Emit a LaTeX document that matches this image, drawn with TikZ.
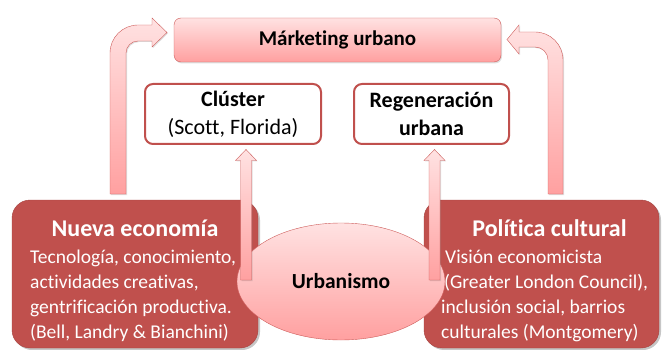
\documentclass[tikz,border=0pt]{standalone}
\usepackage{fontspec}
\setmainfont{Carlito}[Ligatures=NoCommon]
\usetikzlibrary{positioning,calc,shapes.geometric,shadows}

\definecolor{boxred}{RGB}{192,80,77}
\definecolor{boxedge}{RGB}{165,66,63}
\definecolor{pinktop}{RGB}{255,226,226}
\definecolor{pinkbot}{RGB}{255,160,160}
\definecolor{arredge}{RGB}{205,92,90}

\begin{document}
\begin{tikzpicture}[
x=1pt, y=-1pt,
recnode/.style={rectangle, draw=boxred, line width=2pt, fill=white, rounded corners=8pt, align=center, inner sep=0pt, font=\fontsize{22}{28}\selectfont},
topnode/.style={rectangle, draw=arredge, thin, rounded corners=7pt, top color=pinktop, bottom color=pinkbot, drop shadow={opacity=.25, shadow xshift=1pt, shadow yshift=-1.5pt}},
darknode/.style={rectangle, draw=boxedge, fill=boxred, rounded corners=18pt, drop shadow={opacity=.45, shadow xshift=2pt, shadow yshift=-2pt}},
ellnode/.style={ellipse, draw=arredge, top color=pinktop, bottom color=pinkbot},
titletxt/.style={text=white, inner sep=0pt, font=\fontsize{24}{29}\selectfont\bfseries},
bodytxt/.style={text=white, inner sep=0pt, align=left, font=\fontsize{19.5}{25}\selectfont},
blockarr/.style={draw=arredge, thin, top color=pinktop, bottom color=pinkbot, drop shadow={opacity=.25, shadow xshift=1pt, shadow yshift=-1pt}},
]
\useasboundingbox (0,0) rectangle (664,350);
%Nodes
\node[topnode, minimum width=327pt, minimum height=44pt, font=\fontsize{21}{25}\selectfont\bfseries] (mk) at (337.5,40) {Márketing urbano};
\node[recnode, minimum width=176pt, minimum height=60pt] (cl) at (233,114) {\textbf{Clúster}\\(Scott, Florida)};
\node[recnode, minimum width=155pt, minimum height=60pt, font=\fontsize{22}{28}\selectfont\bfseries] (rg) at (431.5,114) {Regeneración\\urbana};
%Bent arrows
\draw[blockarr] (110,194) -- (110,53) .. controls (110,37.5) and (122.5,25) .. (138,25) -- (152,25) -- (152,18) -- (167,32.5) -- (152,47) -- (152,41) -- (138,41) .. controls (131.4,41) and (126,46.4) .. (126,53) -- (126,194) -- cycle;
\draw[blockarr] (548,194) -- (548,60) .. controls (548,52.8) and (542.2,47) .. (535,47) -- (519,47) -- (519,54) -- (507,39.5) -- (519,25) -- (519,32) -- (535,32) .. controls (550.5,32) and (563,44.5) .. (563,60) -- (563,194) -- cycle;
%Bottom boxes
\node[darknode, minimum width=246pt, minimum height=148pt] (ne) at (135,274) {};
\node[darknode, minimum width=235pt, minimum height=148pt] (pc) at (541.5,274) {};
\node[titletxt, anchor=base] (netitle) at ($(ne.north)+(0,37)$) {Nueva economía};
\node[bodytxt, anchor=base west] (netext) at (30,338) {Tecnología, conocimiento,\\actividades creativas,\\gentrificación productiva.\\(Bell, Landry \& Bianchini)};
\node[titletxt, anchor=base] (pctitle) at ($(pc.north)+(8,37)$) {Política cultural};
\node[bodytxt, anchor=base west] (pctext) at (441,338) {\hspace*{4pt}Visión economicista\\\hspace*{3pt}(Greater London Council),\\inclusión social, barrios\\culturales (Montgomery)};
\node[ellnode, minimum width=208pt, minimum height=117pt, font=\fontsize{21.5}{26}\selectfont\bfseries] (urb) at (341,281.5) {Urbanismo};
%Small arrows
\draw[blockarr] (240.5,280) -- (240.5,160.5) -- (235.5,160.5) -- (246,149.5) -- (256.5,160.5) -- (251.5,160.5) -- (251.5,280) -- cycle;
\draw[blockarr] (429,280) -- (429,160.5) -- (424,160.5) -- (434.5,149.5) -- (445,160.5) -- (440,160.5) -- (440,280) -- cycle;
\end{tikzpicture}
\end{document}
